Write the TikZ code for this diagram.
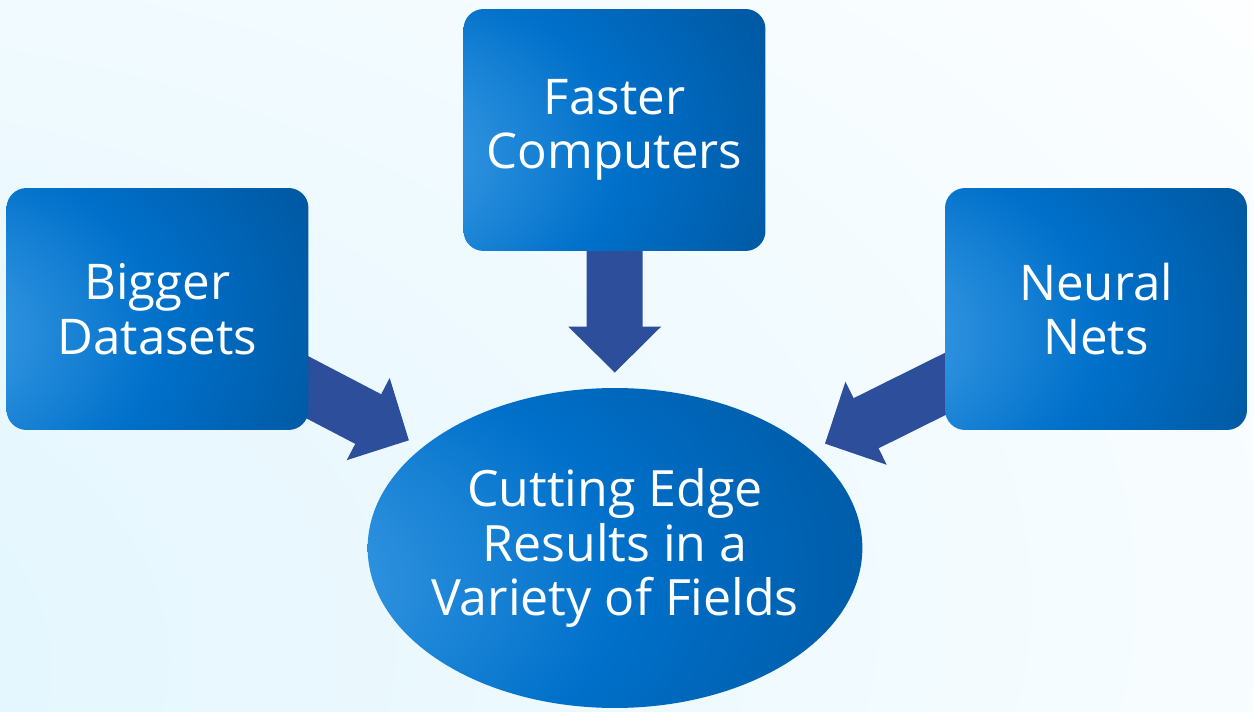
\documentclass[tikz,border=0pt]{standalone}
\usepackage{xcolor}
\usepackage{fontspec}
\setmainfont{Open Sans}
\usepackage{tikz}
\usetikzlibrary{positioning, arrows.meta, shapes.geometric, backgrounds}
\definecolor{glowlight}{HTML}{52ACEE}
\definecolor{glowmid}{HTML}{0070CA}
\definecolor{glowdark}{HTML}{00427C}
\definecolor{arrowblue}{HTML}{2D4E9B}
\definecolor{bgcyan}{HTML}{DCF4FE}

\pgfdeclareradialshading{blueglow}{\pgfpoint{-44bp}{-6bp}}{%
  color(0bp)=(glowlight); color(14bp)=(glowlight!55!glowmid);
  color(34bp)=(glowmid); color(70bp)=(glowdark!80!glowmid); color(95bp)=(glowdark);
  color(140bp)=(glowdark)}
\pgfdeclareradialshading{bgglow}{\pgfpoint{-50bp}{-25bp}}{%
  color(0bp)=(bgcyan); color(38bp)=(bgcyan!50!white);
  color(72bp)=(white); color(160bp)=(white)}

\tikzset{
  factor/.style={shading=blueglow, rounded corners=0.4cm, text=white,
    minimum width=6.04cm, minimum height=4.84cm, align=center,
    font=\fontsize{28}{31}\selectfont},
  outcome/.style={ellipse, shading=blueglow, text=white,
    inner xsep=-0.18cm, inner ysep=0pt,
    minimum width=9.88cm, minimum height=6.4cm, align=center,
    font=\fontsize{28.5}{31}\selectfont},
  feeds/.style={draw=arrowblue, line width=1.12cm, shorten >=0.3cm,
    -{Triangle[length=0.92cm, width=1.8cm]}}
}

\begin{document}
\begin{tikzpicture}[x=0.02cm, y=-0.02cm]
  \useasboundingbox (0,0) rectangle (1254,712);

  \node[factor] (faster) at (614.5,130) {Faster\\Computers};
  \node[factor] (bigger) at (157.5,309) {Bigger\\Datasets};
  \node[factor] (neural) at (1096,309) {Neural\\Nets};
  \node[outcome] (results) at (615,548) {Cutting Edge\\Results in a\\Variety of Fields};

  \begin{pgfonlayer}{background}
    \shade[shading=bgglow] (0,0) rectangle (1254,712);
    \draw[feeds] (faster.center) -- (results);
    \draw[feeds] (bigger.center) -- (results);
    \draw[feeds] (neural.center) -- (results);
  \end{pgfonlayer}
\end{tikzpicture}
\end{document}
